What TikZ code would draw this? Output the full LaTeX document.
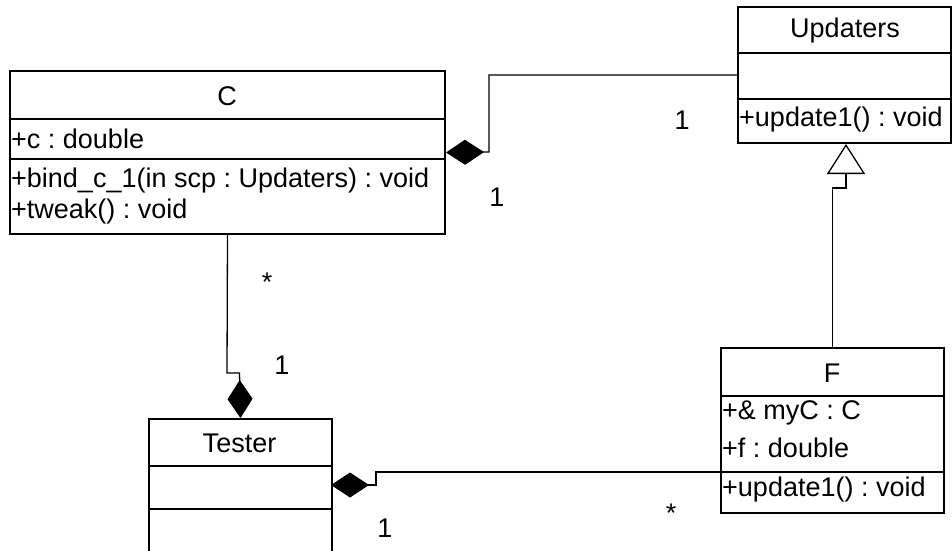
\documentclass[tikz,border=0pt]{standalone}
\usepackage{fontspec}
\setmainfont{Liberation Sans}
\usetikzlibrary{arrows.meta,calc}
\frenchspacing

\begin{document}
\begin{tikzpicture}[x=1pt,y=-1pt,
  every node/.style={font=\fontsize{27}{31}\selectfont\frenchspacing},
  classbox/.style={draw=black, line width=2pt, inner sep=0pt, anchor=north west},
  divider/.style={draw=black, line width=2pt},
  title/.style={inner sep=0pt},
  member/.style={inner sep=0pt, anchor=west},
  mult/.style={inner sep=0pt},
  link/.style={draw=black, line width=1.3pt},
  compose/.style={link, -{Diamond[length=38pt,width=25pt,fill=black,line width=1pt]}},
  inherit/.style={link, -{Triangle[open,length=30pt,width=38pt,fill=white,line width=1.3pt]}}
]
\clip (0,0) rectangle (952,550);
\fill[white] (0,0) rectangle (952,550);

% ---- class C ----
\node[classbox, minimum width=435pt, minimum height=163pt] (C) at (9,70) {};
\draw[divider] (9,119) -- (444,119);
\draw[divider] (9,159) -- (444,159);
\node[title] (Ct) at (227,96) {C};
\node[member] (Ca) at (11,139) {+c : double};
\node[member] (Cm1) at (11,181) {+bind\_c\_1(in scp : Updaters) : void};
\node[member] (Cm2) at (11,212) {+tweak() : void};

% ---- class Updaters ----
\node[classbox, minimum width=213pt, minimum height=136pt] (U) at (737,6) {};
\draw[divider] (737,53) -- (950,53);
\draw[divider] (737,99) -- (950,99);
\node[title] (Ut) at (845,31) {Updaters};
\node[member] (Um) at (739,120) {+update1() : void};

% ---- class Tester (runs past the lower edge) ----
\node[classbox, minimum width=183pt, minimum height=180pt] (T) at (148,418) {};
\draw[divider] (148,466) -- (331,466);
\draw[divider] (148,509) -- (331,509);
\node[title] (Tt) at (239.5,443) {Tester};

% ---- class F ----
\node[classbox, minimum width=223pt, minimum height=165pt] (F) at (720,347) {};
\draw[divider] (720,396) -- (943,396);
\draw[divider] (720,472) -- (943,472);
\node[title] (Ft) at (832,373) {F};
\node[member] (Fa1) at (722,413) {+\& myC : C};
\node[member] (Fa2) at (722,448) {+f : double};
\node[member] (Fm) at (722,490) {+update1() : void};

% ---- connector ports and bends ----
\coordinate (Tport) at (331,485);
\coordinate (Fport) at (720,472);
\coordinate (Ubend) at (846,188);

% C <>-- Updaters (composition)
\draw[compose] (U.west) -| (489,152) -- (C.east);
% F --|> Updaters (generalization)
\draw[inherit] (F.north) |- (Ubend) -- (U.south -| Ubend);
% C -- <>Tester (composition)
\draw[compose] (C.south) -- (227,373) -- (239.5,373) -- (T.north);
% F -- <>Tester (composition)
\draw[compose] (Fport) -- (376,472) -- (376,485) -- (Tport);

% ---- multiplicities ----
\node[mult] (m1) at (682,120) {1};
\node[mult] (m2) at (497,197) {1};
\node[mult] (m3) at (267,282) {*};
\node[mult] (m4) at (282,365) {1};
\node[mult] (m5) at (385,528) {1};
\node[mult] (m6) at (671,513) {*};
\end{tikzpicture}
\end{document}
